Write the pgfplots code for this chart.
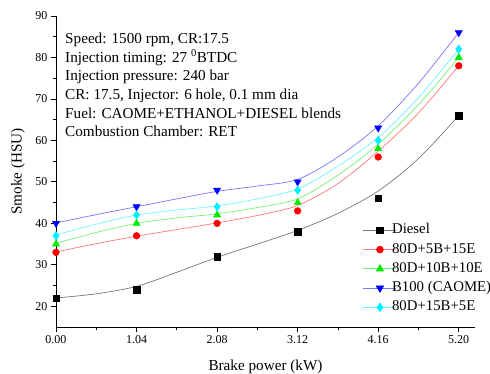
\documentclass[border=0pt]{standalone}
\usepackage{pgfplots}
\pgfplotsset{compat=1.18}
\usepackage{fontspec}
\setmainfont{Liberation Serif}
\definecolor{cgreen}{RGB}{0,235,0}
\definecolor{ccyan}{RGB}{0,240,255}
\definecolor{lgray}{RGB}{120,120,120}
\definecolor{lred}{RGB}{255,120,120}
\definecolor{lgreen}{RGB}{120,240,120}
\definecolor{lblue}{RGB}{120,120,255}
\definecolor{lcyan}{RGB}{110,245,255}

% measured points
\pgfplotstableread{
x y
0.00 22
1.04 24
2.08 32
3.12 38
4.16 46
5.20 66
}\diesel
\pgfplotstableread{
x y
0.00 33
1.04 37
2.08 40
3.12 43
4.16 56
5.20 78
}\bA
\pgfplotstableread{
x y
0.00 35
1.04 40
2.08 42
3.12 45
4.16 58
5.20 80
}\bB
\pgfplotstableread{
x y
0.00 40
1.04 44
2.08 48
3.12 50
4.16 63
5.20 86
}\bC
\pgfplotstableread{
x y
0.00 37
1.04 42
2.08 44
3.12 48
4.16 60
5.20 82
}\bD
% fitted curves
\pgfplotstableread{
x d a b c e
0.00 22.0 33.1 35.2 40.1 37.2
0.52 23.0 35.1 37.8 42.1 39.8
1.04 24.8 36.9 40.0 44.0 42.0
1.56 28.2 38.5 41.3 45.9 43.2
2.08 31.8 40.1 42.3 47.7 44.2
2.60 35.0 41.9 43.8 49.0 45.9
3.12 38.3 44.3 45.9 50.6 48.3
3.64 42.4 49.6 51.6 56.0 53.8
4.16 47.8 57.4 59.1 63.5 60.7
4.68 55.6 66.6 68.6 73.8 70.3
5.20 66.0 78.0 80.0 86.0 82.0
}\fits

\begin{document}
\begin{tikzpicture}[x=1pt,y=1pt]
\begin{axis}[
  name=ax,
  at={(56pt,46pt)}, anchor=south west,
  scale only axis, width=419pt, height=311pt,
  xmin=0, xmax=5.41, ymin=15, ymax=90,
  axis lines=left,
  axis line style={-, line width=0.8pt},
  tick style={black, line width=0.8pt},
  tick align=outside,
  major tick length=5pt, minor tick length=3pt,
  xtick={0,1.04,2.08,3.12,4.16,5.20},
  minor x tick num=1,
  ytick={20,30,...,90},
  minor y tick num=1,
  xticklabel style={/pgf/number format/.cd, fixed, fixed zerofill, precision=2},
  /pgf/number format/assume math mode=true,
  ticklabel style={font=\fontsize{12}{14}\selectfont},
  xlabel={Brake power (kW)},
  ylabel={Smoke (HSU)},
  label style={font=\fontsize{15.2}{17}\selectfont},
  xlabel style={at={(axis description cs:0.5,-0.129)}, anchor=center},
  ylabel style={at={(axis description cs:-0.0907,0.5)}, anchor=center},
  legend style={at={(axis description cs:0.730,0.342)}, anchor=north west,
    draw=none, fill=none, font=\fontsize{14.8}{17}\selectfont,
    row sep=2.25pt, inner sep=1pt,
    nodes={inner xsep=2.5pt, inner ysep=2pt, text height=10pt, text depth=3pt},
    /tikz/every odd column/.append style={column sep=-7.2pt}},
  legend cell align=left,
  legend image code/.code={\draw[mark repeat=2,mark phase=2] plot coordinates {(0pt,0pt) (16.5pt,0pt) (33pt,0pt)};},
]
% curves
\addplot[lgray, line width=0.7pt, smooth, no marks, forget plot] table[x=x,y=d]{\fits};
\addplot[lred, line width=0.7pt, smooth, no marks, forget plot] table[x=x,y=a]{\fits};
\addplot[lgreen, line width=0.7pt, smooth, no marks, forget plot] table[x=x,y=b]{\fits};
\addplot[lblue, line width=0.7pt, smooth, no marks, forget plot] table[x=x,y=c]{\fits};
\addplot[lcyan, line width=0.7pt, smooth, no marks, forget plot] table[x=x,y=e]{\fits};
% markers
\addplot[only marks, mark=square*, mark size=3.2pt, black, forget plot] table{\diesel};
\addplot[only marks, mark=*, mark size=3.4pt, red, forget plot] table{\bA};
\addplot[only marks, mark=triangle*, mark size=4.2pt, cgreen, forget plot] table{\bB};
\addplot[only marks, mark=triangle*, mark size=4.2pt, blue, mark options={rotate=180}, forget plot] table{\bC};
\addplot[only marks, mark=diamond*, mark size=4.2pt, ccyan, forget plot] table{\bD};
% legend
\addlegendimage{lgray, line width=0.7pt, mark=square*, mark size=3.2pt, mark options={black, fill=black}}
\addlegendentry{Diesel}
\addlegendimage{lred, line width=0.7pt, mark=*, mark size=3.4pt, mark options={red, fill=red}}
\addlegendentry{80D+5B+15E}
\addlegendimage{lgreen, line width=0.7pt, mark=triangle*, mark size=4.2pt, mark options={cgreen, fill=cgreen}}
\addlegendentry{80D+10B+10E}
\addlegendimage{lblue, line width=0.7pt, mark=triangle*, mark size=4.2pt, mark options={blue, fill=blue, rotate=180}}
\addlegendentry{B100 (CAOME)}
\addlegendimage{lcyan, line width=0.7pt, mark=diamond*, mark size=4.2pt, mark options={ccyan, fill=ccyan}}
\addlegendentry{80D+15B+5E}
\end{axis}
\begin{scope}[every node/.style={anchor=base west, inner sep=0pt, font=\fontsize{15.2}{17}\selectfont}]
\node at ([shift={(9pt,-27.3pt)}]ax.north west) {Speed: 1500 rpm, CR:17.5};
\node at ([shift={(9pt,-46pt)}]ax.north west) {Injection timing: 27 \textsuperscript{0}BTDC};
\node at ([shift={(9pt,-64.7pt)}]ax.north west) {Injection pressure: 240 bar};
\node at ([shift={(9pt,-83.4pt)}]ax.north west) {CR: 17.5, Injector: 6 hole, 0.1 mm dia};
\node at ([shift={(9pt,-102.1pt)}]ax.north west) {Fuel: CAOME+ETHANOL+DIESEL blends};
\node at ([shift={(9pt,-120.8pt)}]ax.north west) {Combustion Chamber: RET};
\end{scope}
\pgfresetboundingbox
\useasboundingbox (0,0) rectangle (490,373);
\end{tikzpicture}
\end{document}
